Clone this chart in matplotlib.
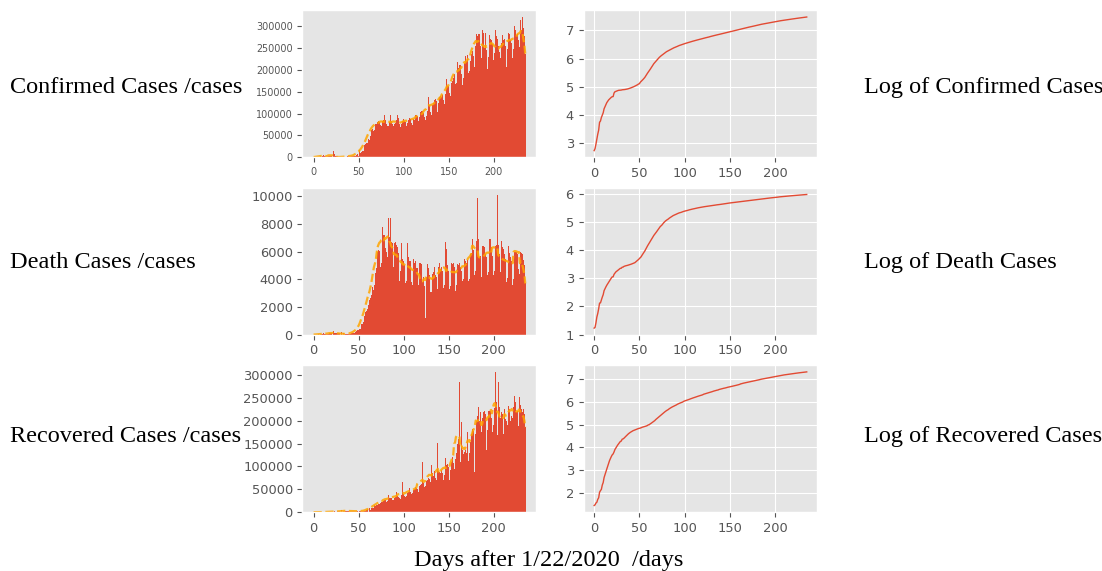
import numpy as np
import pandas as pd
import matplotlib
matplotlib.use("Agg")
import matplotlib.pyplot as plt
from matplotlib.ticker import MultipleLocator


#DAILY NEW CASES (day 0 = 1/22/2020)
confirmed = [
    555, 99, 287, 493, 684, 809, 2651, 588, 2068, 1693,
    2111, 4749, 3100, 4011, 3745, 3159, 3593, 2734, 3031, 2609,
    2042, 418, 15152, 6528, 2143, 2183, 2035, 1882, 500, 560,
    629, 1761, 380, 564, 853, 977, 1360, 1384, 1891, 2358,
    1937, 2534, 2280, 2766, 3915, 4046, 3974, 3769, 5030, 7255,
    2477, 16853, 10896, 11353, 14120, 15528, 17719, 27749, 29638, 32299,
    32446, 41282, 39810, 49608, 61938, 63700, 67415, 59411, 62248, 75122,
    75118, 80861, 82451, 80143, 73694, 71727, 74995,
    83000, 85000, 97000, 86000, 76000, 71000, 71000,
    80000, 96000, 88000, 82000, 77000, 71000, 76000,
    78000, 86000, 97000, 89000, 76000, 70000, 74000,
    77000, 84000, 88000, 84000, 80000, 72000, 79000,
    86000, 90000, 91000, 88000, 78000, 74000, 87000,
    86000, 97000, 96000, 94000, 82000, 78000, 93000,
    104000, 106000, 107000, 101000, 92000, 86000, 94000,
    106000, 118000, 139000, 119000, 104000, 96000, 120000,
    124000, 131000, 133000, 129000, 110000, 103000, 124000,
    139000, 140000, 138000, 142000, 130000, 122000, 145000,
    141000, 180000, 164000, 162000, 146000, 140000, 170000,
    174000, 182000, 190000, 186000, 167000, 170000, 218000,
    204000, 212000, 212000, 190000, 166000, 182000, 228000,
    215000, 232000, 220000, 234000, 193000, 197000, 220000,
    236000, 242000, 250000, 232000, 207000, 255000, 281000,
    278000, 283000, 281000, 255000, 228000, 239000, 290000,
    285000, 251000, 285000, 245000, 203000, 230000, 280000,
    270000, 272000, 268000, 258000, 222000, 238000, 290000,
    278000, 270000, 255000, 240000, 205000, 228000, 262000,
    280000, 268000, 270000, 255000, 207000, 247000, 285000,
    290000, 282000, 268000, 262000, 228000, 248000, 300000,
    290000, 280000, 282000, 268000, 236000, 252000, 315000,
    290000, 320000, 296000, 277000, 237000,
]

deaths = [
    17, 1, 8, 16, 14, 26, 49, 2, 38, 42,
    46, 103, 64, 66, 72, 70, 85, 87, 100, 107,
    100, 5, 253, 152, 143, 104, 98, 139, 115, 125,
    4, 207, 10, 155, 70, 62, 45, 57, 64, 66,
    72, 85, 94, 104, 104, 101, 228, 202, 275, 326,
    353, 432, 414, 783, 755, 910, 974, 1390, 1656, 1687,
    1837, 2132, 2516, 2650, 2897, 3457, 3462, 3240, 3596, 4431,
    4797, 5951, 6150, 6016, 4893, 5210, 8200,
    7800, 7199, 7226, 6250, 5960, 5600, 8400,
    7050, 8400, 6900, 6700, 6600, 4900, 6600,
    6700, 6500, 6300, 5900, 3900, 4600, 6600,
    6600, 5500, 5300, 5000, 3700, 3900, 6600,
    5600, 5300, 5400, 5300, 3800, 3600, 5500,
    5200, 5300, 4800, 4800, 3600, 3400, 5200,
    5200, 5100, 3800, 4200, 3500, 1200, 4160,
    5100, 5000, 4800, 4300, 3100, 3100, 4400,
    4500, 4900, 4300, 4200, 2840, 3300, 4860,
    5200, 4760, 4900, 4600, 3400, 3600, 6700,
    4500, 6200, 5000, 4600, 3300, 3500, 5200,
    5100, 5200, 4900, 4700, 3130, 3600, 5100,
    5000, 5200, 4900, 4600, 3900, 4000, 5300,
    5500, 5300, 5200, 5400, 3900, 4000, 5800,
    5900, 6900, 6320, 6100, 4300, 4600, 6800,
    9900, 6900, 5600, 5700, 4200, 4400, 6440,
    6400, 6300, 5800, 5600, 4300, 4500, 6900,
    6900, 6900, 6300, 5700, 4300, 4600, 6400,
    6500, 10100, 6500, 5800, 4200, 4500, 6800,
    6300, 6200, 5800, 5500, 3800, 4100, 6370,
    6200, 5900, 5600, 5300, 3560, 4000, 6000,
    6000, 6000, 5800, 4760, 9330, 4400, 5960,
    5900, 5800, 5400, 5000, 3700,
]

recovered = [
    28, 2, 6, 3, 13, 9, 46, 19, 17, 79,
    62, 188, 151, 229, 272, 363, 524, 605, 628, 702,
    737, 467, 1145, 1763, 1337, 1470, 1718, 1769, 1769, 2056,
    713, 3996, 508, 1833, 2678, 2479, 2893, 3434, 3071, 2934,
    2886, 2626, 2942, 2626, 2069, 2493, 2336, 1800, 1910, 2599,
    1321, 1927, 2373, 3410, 2054, 2752, 2367, 1647, 2402, 4243,
    6205, 629, 9645, 5705, 8502, 8730, 8499, 9668, 15484, 13468,
    15143, 16000, 18000, 17500, 19000, 22000, 24000,
    23000, 25000, 27000, 26000, 22000, 24000, 37600,
    30000, 31000, 29000, 30000, 26000, 27000, 32000,
    33000, 45000, 36000, 34000, 30000, 29000, 37000,
    38000, 66000, 40000, 36000, 33000, 35000, 41000,
    45000, 52000, 47000, 45000, 40000, 42000, 48000,
    50000, 56000, 53000, 50000, 45000, 47000, 57000,
    60000, 62000, 110000, 63000, 56000, 58000, 68000,
    70000, 72000, 74000, 73000, 65000, 104000, 85000,
    80000, 90000, 74000, 70000, 56000, 152000, 90000,
    88000, 85000, 92000, 86000, 70000, 82000, 119000,
    100000, 103000, 105000, 98000, 70000, 92000, 110000,
    120000, 108000, 95000, 112000, 117000, 130000, 150000,
    160000, 285000, 110000, 197000, 135000, 128000, 159000,
    132000, 135000, 130000, 175000, 112000, 130000, 153000,
    170000, 182000, 175000, 178000, 88000, 171000, 200000,
    210000, 229000, 200000, 218000, 175000, 160000, 205000,
    220000, 222000, 215000, 137000, 180000, 222000, 222000,
    222000, 220000, 205000, 176000, 190000, 228000, 306000,
    241000, 168000, 285000, 231000, 210000, 205000, 218000,
    215000, 171000, 225000, 204000, 200000, 190000, 233000,
    225000, 225000, 200000, 210000, 205000, 230000, 254000,
    240000, 218000, 222000, 189000, 200000, 251000, 235000,
    225000, 220000, 225000, 215000, 186000,
]

left_labels = ["Confirmed Cases /cases", "Death Cases /cases", "Recovered Cases /cases"]
right_labels = ["Log of Confirmed Cases", "Log of Death Cases", "Log of Recovered Cases"]
xlabel = "Days after 1/22/2020  /days"
bar_steps = [50000, 2000, 50000]


plt.style.use("ggplot")
fig = plt.figure(figsize=(11.02, 5.71), dpi=100)

#axes boxes in figure fractions (left column bars, right column log curves)
rows = [(0.7245, 0.2574), (0.4137, 0.2574), (0.1030, 0.2574)]
label_y = [0.846, 0.541, 0.235]

for i, daily in enumerate([confirmed, deaths, recovered]):
    s = pd.Series(daily, dtype=float)
    days = np.arange(len(s))
    #7-day average looking forward (last value is just the last day)
    avg = s[::-1].rolling(7, min_periods=1).mean()[::-1]
    total = np.log10(s.cumsum())

    ax1 = fig.add_axes([0.2745, rows[i][0], 0.2122, rows[i][1]])
    ax1.bar(days, s, width=1.0, color="#E24A33")
    ax1.plot(days, avg, "--", color="orange", lw=1.6, alpha=0.85)
    ax1.grid(False)
    ax1.xaxis.set_major_locator(MultipleLocator(50))
    ax1.yaxis.set_major_locator(MultipleLocator(bar_steps[i]))
    ax1.tick_params(labelsize=6.9 if i == 0 else 9.4)

    ax2 = fig.add_axes([0.5295, rows[i][0], 0.2122, rows[i][1]])
    ax2.plot(days, total, color="#E24A33", lw=1.0)
    ax2.xaxis.set_major_locator(MultipleLocator(50))
    ax2.yaxis.set_major_locator(MultipleLocator(1))
    ax2.tick_params(labelsize=9.4)

    fig.text(0.009, label_y[i], left_labels[i], family="Liberation Serif",
             fontsize=17.5, ha="left", va="center")
    fig.text(0.784, label_y[i], right_labels[i], family="Liberation Serif",
             fontsize=17.5, ha="left", va="center")

fig.text(0.498, 0.019, xlabel, family="Liberation Serif", fontsize=17.5,
         ha="center", va="center")

fig.savefig("out.png", dpi=100)
